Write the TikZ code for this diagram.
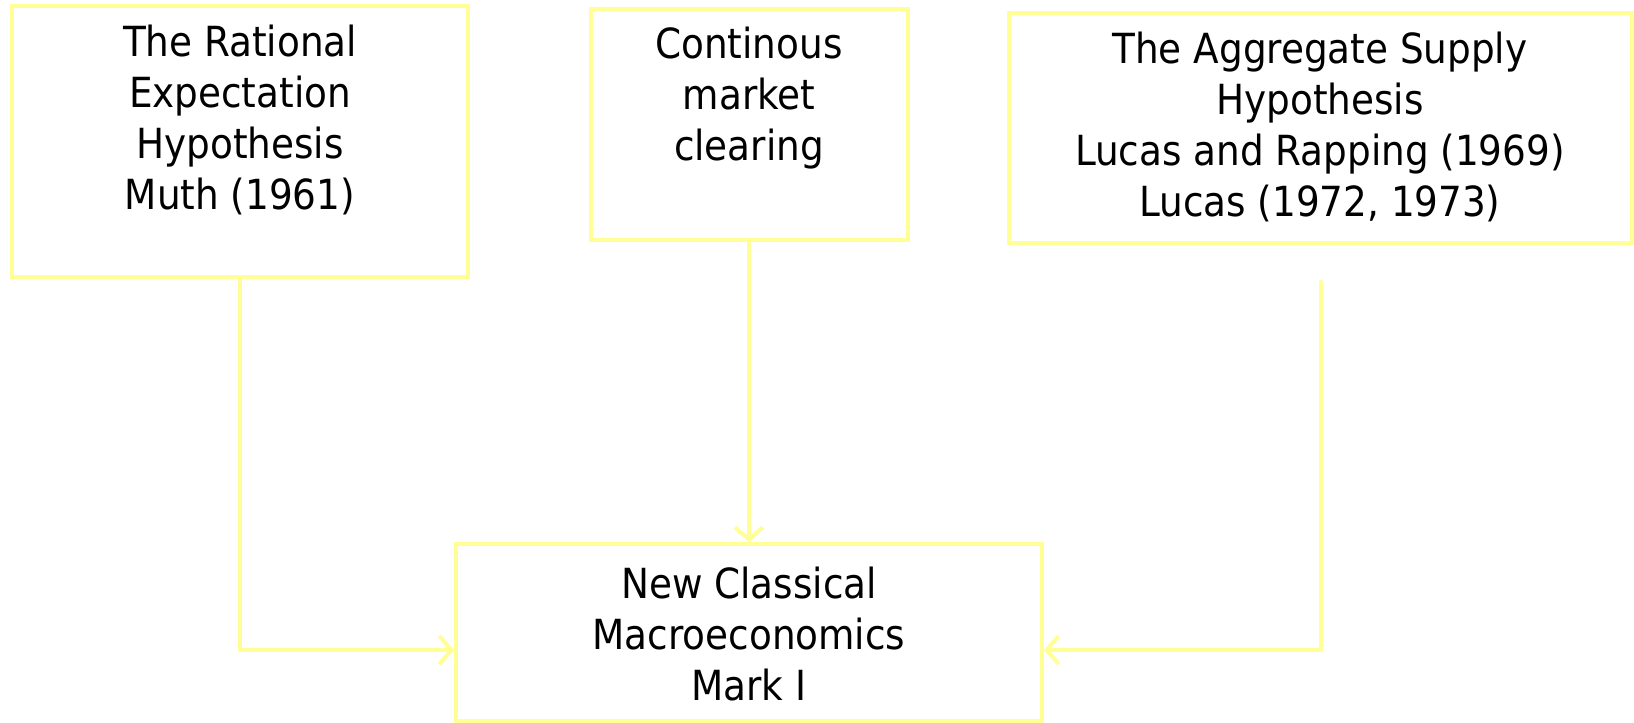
\documentclass[tikz,border=0pt]{standalone}
\usepackage{fontspec}
\setmainfont{DejaVu Sans Condensed}
\usetikzlibrary{arrows.meta}
\definecolor{boxyellow}{RGB}{255,255,150}
\begin{document}
\begin{tikzpicture}[x=1pt,y=1pt,
  box/.style={draw=boxyellow, line width=4pt, inner sep=0pt, fill=none},
  txt/.style={align=center, text=black, font=\fontsize{41.5}{51}\selectfont, inner sep=0pt},
  conn/.style={draw=boxyellow, line width=4pt, line cap=round, line join=round},
  arr/.style={conn, -{Straight Barb[length=12pt,width=28pt,line width=4pt]}}]
\useasboundingbox (0,0) rectangle (1634,-723);
% boxes
\node[box, minimum width=456pt, minimum height=271pt] (b1) at (240,-141.5) {};
\node[box, minimum width=317pt, minimum height=231pt] (b2) at (749,-124.5) {};
\node[box, minimum width=623pt, minimum height=230pt] (b3) at (1320.5,-127.5) {};
\node[box, minimum width=586pt, minimum height=177pt] (b4) at (749,-632.5) {};
% texts
\node[txt] (t1) at (240,-120) {The Rational\\Expectation\\Hypothesis\\Muth (1961)};
\node[txt] (t2) at (749,-98) {Continous\\market\\clearing};
\node[txt] (t3) at (1320,-127) {The Aggregate Supply\\Hypothesis\\Lucas and Rapping (1969)\\Lucas (1972, 1973)};
\node[txt] (t4) at (749,-634) {New Classical\\Macroeconomics\\Mark I};
% connectors
\coordinate (r0) at (1321,-282);
\draw[arr] (b1.south) |- (b4.west |- 0,-650);
\draw[arr] (b2.south) -- (b4.north);
\draw[arr] (r0) |- (b4.east |- 0,-650);
\end{tikzpicture}
\end{document}
